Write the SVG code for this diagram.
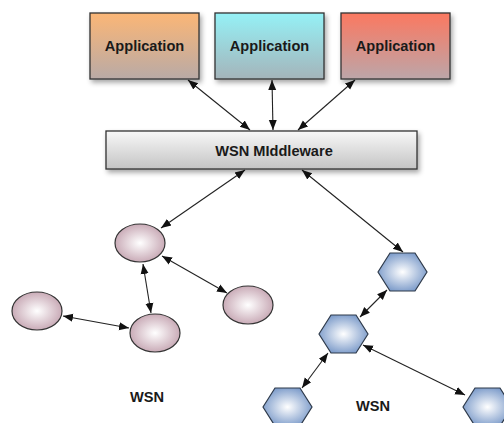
<svg xmlns="http://www.w3.org/2000/svg" width="504" height="423" viewBox="0 0 504 423">
<defs>
<linearGradient id="g1" x1="0" y1="0" x2="0" y2="1"><stop offset="0" stop-color="#fbb676"/><stop offset="1" stop-color="#b9aaa6"/></linearGradient>
<linearGradient id="g2" x1="0" y1="0" x2="0" y2="1"><stop offset="0" stop-color="#95f1f6"/><stop offset="1" stop-color="#a4b4ba"/></linearGradient>
<linearGradient id="g3" x1="0" y1="0" x2="0" y2="1"><stop offset="0" stop-color="#fb7860"/><stop offset="1" stop-color="#bca6a9"/></linearGradient>
<linearGradient id="gm" x1="0" y1="0" x2="0" y2="1"><stop offset="0" stop-color="#f8f8f8"/><stop offset="1" stop-color="#c4c4c4"/></linearGradient>
<radialGradient id="ge" cx="0.5" cy="0.5" r="0.55"><stop offset="0" stop-color="#ffffff"/><stop offset="1" stop-color="#c4a3b0"/></radialGradient>
<radialGradient id="gh" cx="0.5" cy="0.5" r="0.55"><stop offset="0" stop-color="#ffffff"/><stop offset="1" stop-color="#7898c8"/></radialGradient>
<filter id="sh" x="-10%" y="-10%" width="130%" height="140%"><feDropShadow dx="2" dy="3" stdDeviation="2.5" flood-color="#000" flood-opacity="0.35"/></filter>
<marker id="ah" viewBox="0 0 10 10" refX="10" refY="5" markerWidth="10" markerHeight="10" markerUnits="userSpaceOnUse" orient="auto-start-reverse"><path d="M0,1 L10,5 L0,9 z" fill="#111"/></marker>
</defs>
<style>
.box{stroke:#333;stroke-width:1.3;filter:url(#sh)}
.lbl{font-family:"Liberation Sans",Arial,sans-serif;font-weight:bold;font-size:14.6px;fill:#1a1a1a;text-anchor:middle}
.ell{fill:url(#ge);stroke:#333;stroke-width:1.2}
.hex{fill:url(#gh);stroke:#2e3a4a;stroke-width:1.2}
.con line{stroke:#222;stroke-width:1.1;marker-start:url(#ah);marker-end:url(#ah)}
</style>
<g id="app1"><rect class="box" x="90" y="13" width="109" height="66" fill="url(#g1)"/><text class="lbl" x="144.5" y="51">Application</text></g>
<g id="app2"><rect class="box" x="215" y="13" width="109" height="66" fill="url(#g2)"/><text class="lbl" x="269.5" y="51">Application</text></g>
<g id="app3"><rect class="box" x="341" y="13" width="109" height="66" fill="url(#g3)"/><text class="lbl" x="395.5" y="51">Application</text></g>
<g id="middleware"><rect class="box" x="106" y="131" width="311" height="38" fill="url(#gm)"/><text class="lbl" x="274" y="155.5">WSN MIddleware</text></g>
<g id="e1"><ellipse class="ell" cx="140" cy="243" rx="25" ry="19"/></g>
<g id="e2"><ellipse class="ell" cx="37" cy="311" rx="25" ry="19"/></g>
<g id="e3"><ellipse class="ell" cx="155" cy="333" rx="25" ry="19"/></g>
<g id="e4"><ellipse class="ell" cx="248" cy="305" rx="25" ry="19"/></g>
<g id="h1"><polygon class="hex" points="378,272 390,253 415,253 427,272 415,291 390,291"/></g>
<g id="h2"><polygon class="hex" points="319,334 331,315 356,315 368,334 356,353 331,353"/></g>
<g id="h3"><polygon class="hex" points="263,407 275,388 300,388 312,407 300,426 275,426"/></g>
<g id="h4"><polygon class="hex" points="463,407 475,388 500,388 512,407 500,426 475,426"/></g>
<g id="labels"><text class="lbl" x="147" y="402">WSN</text><text class="lbl" x="373" y="411">WSN</text></g>
<g class="con" id="connectors">
<line x1="188" y1="80" x2="250" y2="130"/>
<line x1="272" y1="80" x2="273" y2="130"/>
<line x1="355" y1="80" x2="298" y2="130"/>
<line x1="245" y1="170" x2="161" y2="228"/>
<line x1="302" y1="170" x2="403" y2="252"/>
<line x1="143" y1="264" x2="151" y2="313"/>
<line x1="162" y1="256" x2="227" y2="293"/>
<line x1="63" y1="316" x2="129" y2="328"/>
<line x1="387" y1="290" x2="360" y2="317"/>
<line x1="363" y1="345" x2="465" y2="395"/>
<line x1="328" y1="353" x2="302" y2="388"/>
</g>
</svg>
